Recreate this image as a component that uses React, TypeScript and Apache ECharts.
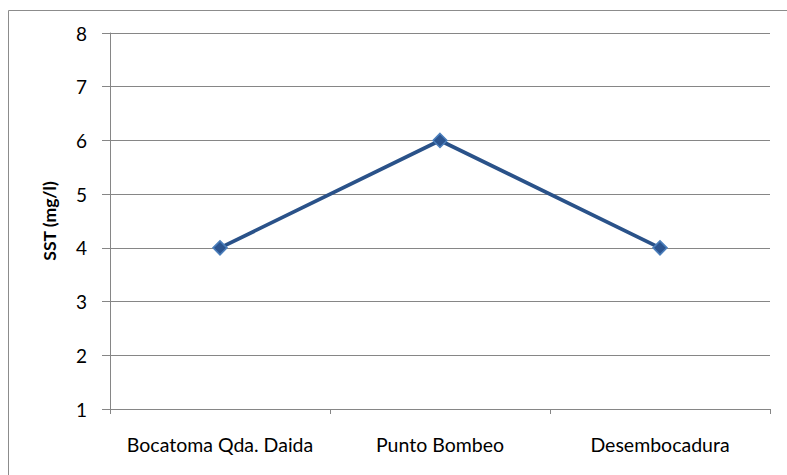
import React, { useEffect, useRef } from "react";
import * as echarts from "echarts";

const categories = ["Bocatoma Qda. Daida", "Punto Bombeo", "Desembocadura"];
const values = [4, 6, 4];
const yAxisName = "SST (mg/l)";
const yMin = 1;
const yMax = 8;

export default function App() {
  const ref = useRef<HTMLDivElement>(null);
  useEffect(() => {
    if (!ref.current) return;
    const chart = echarts.init(ref.current, null, { renderer: "svg" });
    const font = "Lato, 'Open Sans', sans-serif";
    chart.setOption({
      animation: false,
      backgroundColor: "#ffffff",
      graphic: [
        {
          type: "rect",
          shape: { x: 8.5, y: 10.5, width: 800, height: 500 },
          style: { fill: "none", stroke: "#8c8c8c", lineWidth: 1 },
          silent: true,
        },
      ],
      grid: { left: 110, top: 33, right: 17, bottom: 66 },
      xAxis: {
        type: "category",
        data: categories,
        boundaryGap: true,
        axisLine: { lineStyle: { color: "#868686", width: 1 } },
        axisTick: { show: true, length: 5, lineStyle: { color: "#868686" } },
        axisLabel: { color: "#000", fontSize: 19.5, fontFamily: font, margin: 25, interval: 0, hideOverlap: false },
        splitLine: { show: false },
      },
      yAxis: {
        type: "value",
        min: yMin,
        max: yMax,
        interval: 1,
        name: yAxisName,
        nameLocation: "middle",
        nameGap: 52,
        nameRotate: 90,
        nameTextStyle: { color: "#000", fontSize: 17.5, fontWeight: "bold", fontFamily: font },
        axisLine: { show: true, lineStyle: { color: "#868686", width: 1 } },
        axisTick: { show: true, length: 8, lineStyle: { color: "#868686" } },
        axisLabel: { color: "#000", fontSize: 19, fontFamily: font, margin: 23 },
        splitLine: { show: true, lineStyle: { color: "#868686", width: 1 } },
      },
      series: [
        {
          type: "line",
          data: values,
          symbol: "diamond",
          symbolSize: 14,
          lineStyle: { color: "#2A5289", width: 3.8 },
          itemStyle: { color: "#2C5590", borderColor: "#4A7EBB", borderWidth: 1.5 },
        },
      ],
    });
    return () => chart.dispose();
  }, []);
  return (
    <div
      ref={ref}
      style={{ position: "absolute", left: 0, top: 0, width: 787, height: 475 }}
    />
  );
}
